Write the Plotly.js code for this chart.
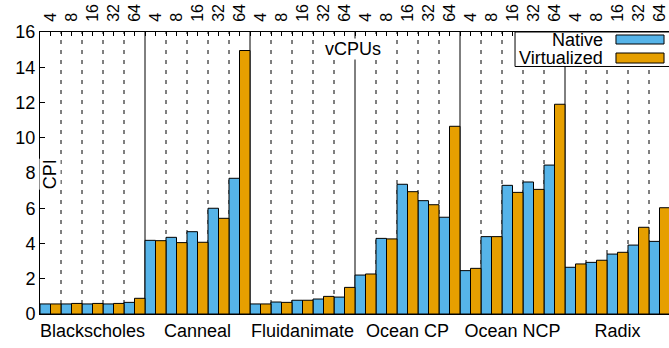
<!DOCTYPE html>
<html>
<head>
<meta charset="utf-8">
<script src="https://cdn.plot.ly/plotly-3.0.1.min.js"></script>
<style>html,body{margin:0;padding:0;background:#fff;}#chart{width:669px;height:348px;}</style>
</head>
<body>
<div id="chart"></div>
<script>
// ---- data ----
var benchmarks = ['Blackscholes', 'Canneal', 'Fluidanimate', 'Ocean CP', 'Ocean NCP', 'Radix'];
var vcpus = ['4', '8', '16', '32', '64'];
// CPI, per benchmark in vCPU order 4, 8, 16, 32, 64
var nativeBlackscholes = [0.57, 0.57, 0.57, 0.57, 0.66];
var nativeCanneal      = [4.18, 4.35, 4.67, 6.00, 7.70];
var nativeFluidanimate = [0.57, 0.68, 0.78, 0.85, 0.96];
var nativeOceanCP      = [2.21, 4.29, 7.36, 6.43, 5.49];
var nativeOceanNCP     = [2.46, 4.39, 7.30, 7.49, 8.45];
var nativeRadix        = [2.65, 2.93, 3.40, 3.91, 4.12];
var virtBlackscholes   = [0.57, 0.60, 0.60, 0.60, 0.89];
var virtCanneal        = [4.16, 4.05, 4.07, 5.43, 14.95];
var virtFluidanimate   = [0.57, 0.66, 0.78, 1.00, 1.51];
var virtOceanCP        = [2.27, 4.26, 6.94, 6.20, 10.65];
var virtOceanNCP       = [2.59, 4.39, 6.90, 7.07, 11.90];
var virtRadix          = [2.84, 3.05, 3.50, 4.92, 6.03];

var nativeCPI = [].concat(nativeBlackscholes, nativeCanneal, nativeFluidanimate, nativeOceanCP, nativeOceanNCP, nativeRadix);
var virtCPI = [].concat(virtBlackscholes, virtCanneal, virtFluidanimate, virtOceanCP, virtOceanNCP, virtRadix);

// ---- build ----
var nG = benchmarks.length, nV = vcpus.length, N = nG * nV;
var xs = [], topText = [], minorVals = [];
for (var i = 0; i < N; i++) { xs.push(i); topText.push(vcpus[i % nV]); }
for (var k = 0; k <= 2 * N; k++) minorVals.push(-0.5 + k * 0.5);
var centers = [];
for (var g = 0; g < nG; g++) centers.push(g * nV + (nV - 1) / 2);

var FONT = 'Liberation Sans, Arial, sans-serif';
var FS = 18;
var BLUE = '#56B4E9', ORANGE = '#E69F00';

var traces = [
  {type: 'bar', name: 'Native', x: xs, y: nativeCPI, marker: {color: BLUE, line: {color: '#000', width: 1}}, showlegend: false, hoverinfo: 'skip'},
  {type: 'bar', name: 'Virtualized', x: xs, y: virtCPI, marker: {color: ORANGE, line: {color: '#000', width: 1}}, showlegend: false, hoverinfo: 'skip'},
  {type: 'scatter', mode: 'lines', x: [0, N - 1], y: [null, null], xaxis: 'x2', yaxis: 'y', showlegend: false, hoverinfo: 'skip'}
];

var shapes = [];
for (var b = 0; b < N - 1; b++) {
  var solid = ((b + 1) % nV === 0);
  shapes.push({type: 'line', layer: 'below', xref: 'x', yref: 'paper', x0: b + 0.5, x1: b + 0.5, y0: 0, y1: 1,
    line: {color: '#000', width: 1, dash: solid ? 'solid' : '4px,6px'}});
}
// legend (key drawn like gnuplot: text then swatch)
shapes.push({type: 'rect', layer: 'above', xref: 'paper', yref: 'paper', x0: 0.7552, x1: 1.05, y0: 0.8777, y1: 1.0,
  fillcolor: '#fff', line: {color: '#000', width: 1}});
shapes.push({type: 'rect', layer: 'above', xref: 'paper', yref: 'paper', x0: 0.9157, x1: 0.9921, y0: 0.9574, y1: 0.9894,
  fillcolor: BLUE, line: {color: '#000', width: 1}});
shapes.push({type: 'rect', layer: 'above', xref: 'paper', yref: 'paper', x0: 0.9157, x1: 0.9921, y0: 0.8900, y1: 0.9255,
  fillcolor: ORANGE, line: {color: '#000', width: 1}});

var annotations = [
  {text: 'Native', xref: 'paper', yref: 'paper', x: 0.8983, y: 0.9734, xanchor: 'right', yanchor: 'middle', showarrow: false, font: {family: FONT, size: FS, color: '#000'}},
  {text: 'Virtualized', xref: 'paper', yref: 'paper', x: 0.8983, y: 0.9078, xanchor: 'right', yanchor: 'middle', showarrow: false, font: {family: FONT, size: FS, color: '#000'}},
  {text: 'CPI', xref: 'paper', yref: 'paper', x: 0.016, y: 0.496, textangle: -90, xanchor: 'center', yanchor: 'middle', showarrow: false, bgcolor: '#fff', borderpad: 0, font: {family: FONT, size: FS, color: '#000'}},
  {text: 'vCPUs', xref: 'paper', yref: 'paper', x: 0.4976, y: 0.94, xanchor: 'center', yanchor: 'middle', showarrow: false, bgcolor: '#fff', borderpad: 0, font: {family: FONT, size: FS, color: '#000'}}
];

var xr = [-0.5, -0.5 + 629 / 21];
var layout = {
  width: 669, height: 348,
  margin: {l: 40, r: 0, t: 32, b: 34, pad: 0},
  paper_bgcolor: '#fff', plot_bgcolor: '#fff',
  font: {family: FONT, size: FS, color: '#000'},
  barmode: 'group', bargap: 0, bargroupgap: 0,
  showlegend: false,
  xaxis: {range: xr, tickmode: 'array', tickvals: centers, ticktext: benchmarks, ticks: '', showgrid: false, zeroline: false,
    showline: true, linecolor: '#000', linewidth: 1, tickfont: {family: FONT, size: FS, color: '#000'}},
  xaxis2: {overlaying: 'x', side: 'top', range: xr, tickmode: 'array', tickvals: xs, ticktext: topText, tickangle: -90,
    ticks: 'inside', ticklen: 4, tickcolor: '#000', showgrid: false, zeroline: false, showline: true, linecolor: '#000', linewidth: 1,
    ticklabelstandoff: 6, ticklabeloverflow: 'allow',
    minor: {tickvals: minorVals, ticks: 'inside', ticklen: 4, tickcolor: '#000', showgrid: false},
    tickfont: {family: FONT, size: 16, color: '#000'}},
  yaxis: {range: [0, 16], dtick: 2, tick0: 0, ticks: 'inside', ticklen: 5, tickcolor: '#000', showgrid: false, zeroline: false,
    showline: true, linecolor: '#000', linewidth: 1, tickfont: {family: FONT, size: FS, color: '#000'}},
  shapes: shapes,
  annotations: annotations
};

Plotly.newPlot('chart', traces, layout, {staticPlot: true, displayModeBar: false});
</script>
</body>
</html>
